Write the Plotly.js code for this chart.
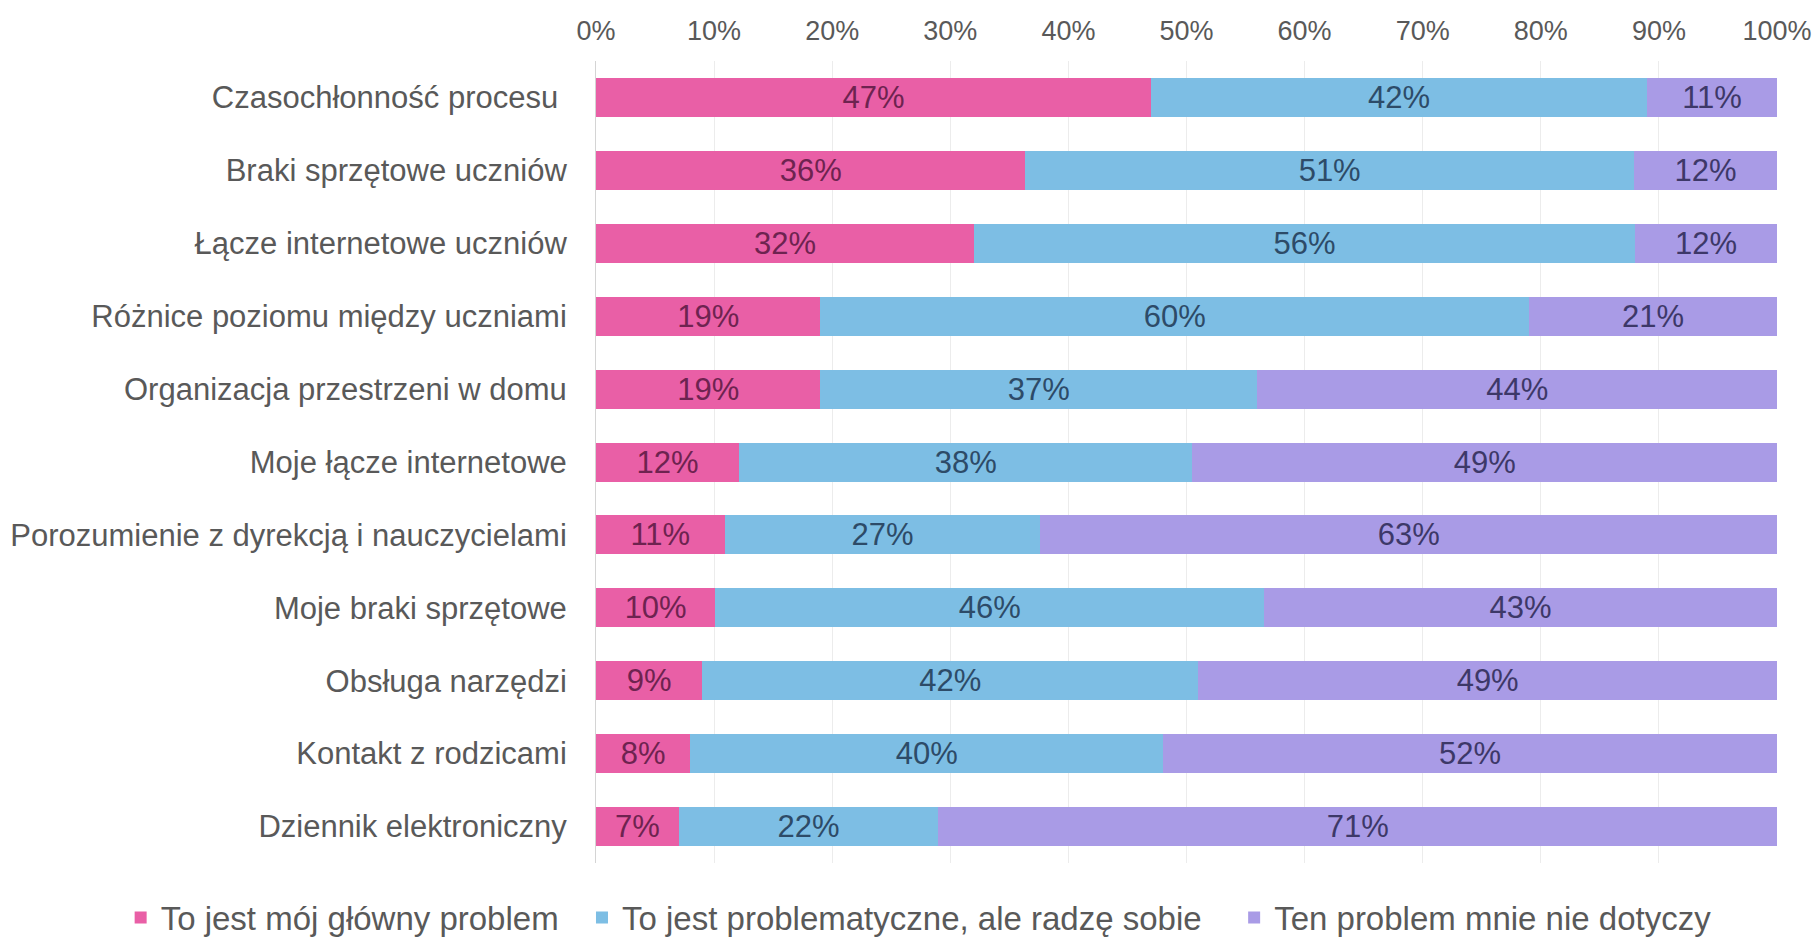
<!DOCTYPE html>
<html>
<head>
<meta charset="utf-8">
<script src="https://cdn.plot.ly/plotly-3.0.1.min.js"></script>
<style>html,body{margin:0;padding:0;background:#fff;}#chart{width:1815px;height:938px;}</style>
</head>
<body>
<div id="chart"></div>
<script>
var categories = [
  "Czasochłonność procesu\u00a0",
  "Braki sprzętowe uczniów",
  "Łącze internetowe uczniów",
  "Różnice poziomu między uczniami",
  "Organizacja przestrzeni w domu",
  "Moje łącze internetowe",
  "Porozumienie z dyrekcją i nauczycielami",
  "Moje braki sprzętowe",
  "Obsługa narzędzi",
  "Kontakt z rodzicami",
  "Dziennik elektroniczny"
];
var seriesNames = [
  "To jest mój główny problem\u00a0\u00a0",
  "To jest problematyczne, ale radzę sobie\u00a0\u00a0\u00a0",
  "Ten problem mnie nie dotyczy"
];
var mainProblem = [47, 36, 32, 19, 19, 12, 11, 10, 9, 8, 7];
var problematic = [42, 51, 56, 60, 37, 38, 27, 46, 42, 40, 22];
var notConcerned = [11, 12, 12, 21, 44, 49, 63, 43, 49, 52, 71];
var tickVals = [0, 10, 20, 30, 40, 50, 60, 70, 80, 90, 100];

var colors = ["#E95FA6", "#7DBEE4", "#A99BE6"];
var textColors = ["#6e2350", "#2d4b68", "#3d3868"];
var FONT = "Liberation Sans, Arial, sans-serif";

var seriesValues = [mainProblem, problematic, notConcerned];
var traces = seriesValues.map(function (vals, i) {
  return {
    type: "bar",
    orientation: "h",
    name: seriesNames[i],
    y: categories,
    x: vals,
    text: vals.map(function (v) { return v + "%"; }),
    textposition: "inside",
    insidetextanchor: "middle",
    textangle: 0,
    constraintext: "none",
    insidetextfont: { family: FONT, size: 31, color: textColors[i] },
    marker: { color: colors[i], line: { width: 0 } },
    hoverinfo: "skip"
  };
});

var layout = {
  width: 1815,
  height: 938,
  margin: { l: 596, r: 38, t: 61, b: 75, autoexpand: false },
  paper_bgcolor: "#ffffff",
  plot_bgcolor: "#ffffff",
  barmode: "stack",
  barnorm: "percent",
  bargap: 0.465,
  font: { family: FONT, color: "#595959" },
  xaxis: {
    side: "top",
    range: [0, 100],
    tickvals: tickVals,
    ticktext: tickVals.map(function (v) { return v + "%"; }),
    showgrid: true,
    gridcolor: "#ececec",
    gridwidth: 1,
    zeroline: false,
    showline: false,
    ticks: "",
    automargin: false,
    ticklabelstandoff: 15,
    tickfont: { family: FONT, size: 27, color: "#595959" },
    fixedrange: true
  },
  yaxis: {
    autorange: "reversed",
    showgrid: false,
    zeroline: false,
    showline: true,
    linecolor: "#d4d4d4",
    linewidth: 1,
    ticks: "",
    automargin: false,
    ticklabelstandoff: 22,
    tickfont: { family: FONT, size: 31, color: "#595959" },
    fixedrange: true
  },
  legend: {
    orientation: "h",
    traceorder: "normal",
    x: -0.4025,
    xanchor: "left",
    y: -0.068,
    yanchor: "middle",
    font: { family: FONT, size: 33, color: "#595959" },
    itemclick: false,
    itemdoubleclick: false
  },
  showlegend: true
};

Plotly.newPlot("chart", traces, layout, { displayModeBar: false, staticPlot: true });
</script>
</body>
</html>
